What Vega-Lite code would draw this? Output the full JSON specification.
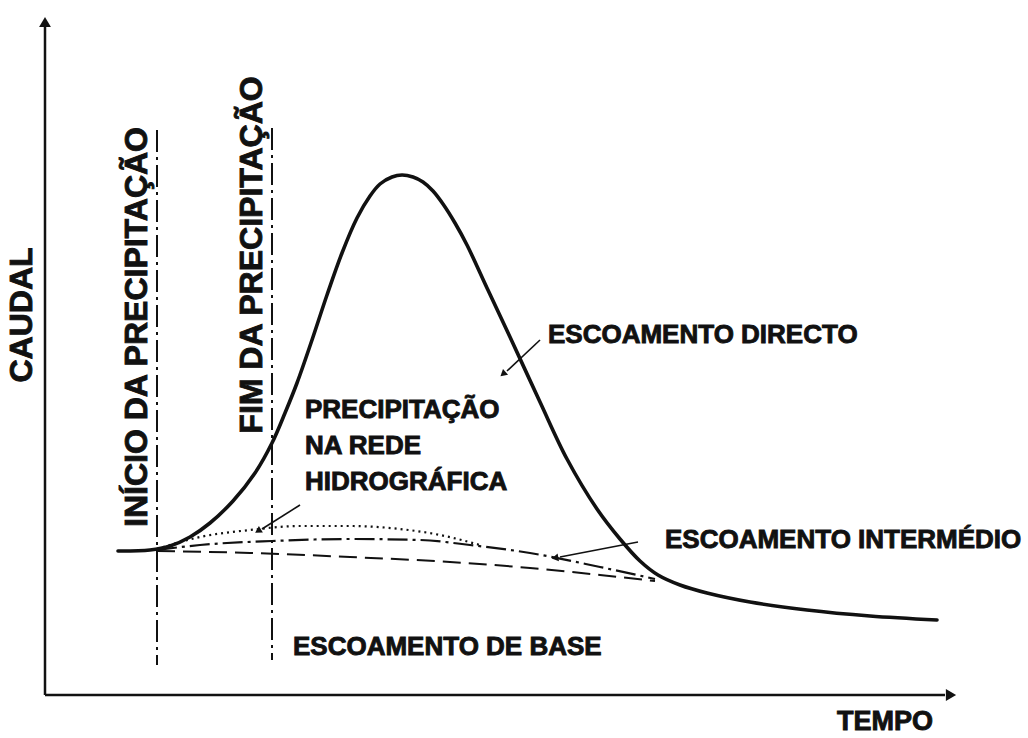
{
  "$schema": "https://vega.github.io/schema/vega-lite/v6.json",
  "width": 1028,
  "height": 738,
  "autosize": {"type": "fit", "contains": "padding"},
  "padding": 0,
  "background": "white",
  "config": {"view": {"stroke": null}},
  "datasets": {
    "direct": [
      {"t": 7.3, "Q": 14.4}, {"t": 10.5, "Q": 14.5}, {"t": 12.5, "Q": 14.9}, {"t": 14.5, "Q": 15.8},
      {"t": 16.5, "Q": 17.2}, {"t": 18.8, "Q": 19.4}, {"t": 21.0, "Q": 22.2}, {"t": 22.7, "Q": 25.2},
      {"t": 24.0, "Q": 28.2}, {"t": 25.2, "Q": 31.2}, {"t": 26.7, "Q": 35.5}, {"t": 28.2, "Q": 40.0},
      {"t": 29.7, "Q": 44.2}, {"t": 31.2, "Q": 47.7}, {"t": 32.5, "Q": 49.9}, {"t": 33.5, "Q": 51.1},
      {"t": 34.7, "Q": 51.8}, {"t": 35.7, "Q": 52.0}, {"t": 36.8, "Q": 51.8}, {"t": 37.8, "Q": 51.3},
      {"t": 38.8, "Q": 50.4}, {"t": 39.8, "Q": 49.1}, {"t": 41.0, "Q": 47.2}, {"t": 42.2, "Q": 45.0},
      {"t": 44.2, "Q": 40.7}, {"t": 46.5, "Q": 35.8}, {"t": 49.5, "Q": 29.3},
      {"t": 52.2, "Q": 23.6}, {"t": 55.2, "Q": 18.6}, {"t": 57.5, "Q": 15.6}, {"t": 59.5, "Q": 13.4},
      {"t": 61.3, "Q": 12.0}, {"t": 63.5, "Q": 11.0}, {"t": 66.2, "Q": 10.2}, {"t": 70.5, "Q": 9.3},
      {"t": 76.2, "Q": 8.5}, {"t": 82.5, "Q": 7.9}, {"t": 89.2, "Q": 7.5}
    ],
    "base": [
      {"t": 11.2, "Q": 14.4}, {"t": 20.5, "Q": 14.2}, {"t": 30.5, "Q": 13.8}, {"t": 40.5, "Q": 13.3},
      {"t": 48.5, "Q": 12.7}, {"t": 55.5, "Q": 12.0}, {"t": 61.0, "Q": 11.4}
    ],
    "inter": [
      {"t": 11.2, "Q": 14.5}, {"t": 15.5, "Q": 15.0}, {"t": 22.7, "Q": 15.4}, {"t": 30.5, "Q": 15.6},
      {"t": 37.5, "Q": 15.5}, {"t": 42.5, "Q": 15.0}, {"t": 48.5, "Q": 14.2}, {"t": 55.5, "Q": 12.8},
      {"t": 61.0, "Q": 11.6}
    ],
    "precip": [
      {"t": 11.2, "Q": 14.6}, {"t": 15.5, "Q": 15.8}, {"t": 20.5, "Q": 16.5}, {"t": 25.5, "Q": 16.9},
      {"t": 30.5, "Q": 16.9}, {"t": 35.5, "Q": 16.6}, {"t": 39.5, "Q": 16.0}, {"t": 43.5, "Q": 15.0}
    ],
    "axes": [
      {"t": 0, "Q": 0, "t2": 0, "Q2": 67.0},
      {"t": 0, "Q": 0, "t2": 90.0, "Q2": 0}
    ],
    "axisHeads": [
      {"t": 0, "Q": 67.3, "angle": 0},
      {"t": 90.6, "Q": 0, "angle": 90}
    ],
    "markers": [
      {"t": 11.2, "Q": 56.5, "t2": 11.2, "Q2": 3.0},
      {"t": 22.7, "Q": 56.7, "t2": 22.7, "Q2": 3.5}
    ],
    "pointers": [
      {"t": 49.5, "Q": 35.5, "t2": 46.2, "Q2": 32.4},
      {"t": 25.5, "Q": 19.0, "t2": 21.7, "Q2": 16.6},
      {"t": 59.3, "Q": 15.3, "t2": 51.5, "Q2": 13.8}
    ],
    "pointerHeads": [
      {"t": 45.8, "Q": 32.1, "angle": 229},
      {"t": 21.3, "Q": 16.4, "angle": 239},
      {"t": 51.0, "Q": 13.7, "angle": 260}
    ],
    "labels": [
      {"t": 50.3, "Q": 36.0, "text": "ESCOAMENTO DIRECTO"},
      {"t": 26.0, "Q": 28.5, "text": "PRECIPITAÇÃO"},
      {"t": 26.0, "Q": 24.9, "text": "NA REDE"},
      {"t": 26.0, "Q": 21.3, "text": "HIDROGRÁFICA"},
      {"t": 62.0, "Q": 15.5, "text": "ESCOAMENTO INTERMÉDIO"},
      {"t": 24.8, "Q": 4.8, "text": "ESCOAMENTO DE BASE"}
    ],
    "vlabels": [
      {"t": -2.3, "Q": 38.0, "text": "CAUDAL"},
      {"t": 9.2, "Q": 36.8, "text": "INÍCIO DA PRECIPITAÇÃO"},
      {"t": 20.7, "Q": 44.0, "text": "FIM DA PRECIPITAÇÃO"}
    ],
    "xlabel": [
      {"t": 84.0, "Q": -2.7, "text": "TEMPO"}
    ]
  },
  "encoding": {
    "x": {"field": "t", "type": "quantitative", "scale": {"domain": [-4.5, 98.3], "nice": false, "zero": false}, "axis": null},
    "y": {"field": "Q", "type": "quantitative", "scale": {"domain": [-4.3, 69.5], "nice": false, "zero": false}, "axis": null}
  },
  "layer": [
    {
      "data": {"name": "axes"},
      "mark": {"type": "rule", "color": "#111", "strokeWidth": 2.5},
      "encoding": {"x2": {"field": "t2"}, "y2": {"field": "Q2"}}
    },
    {
      "data": {"name": "axisHeads"},
      "mark": {"type": "point", "shape": "triangle-up", "filled": true, "color": "#111", "size": 140, "opacity": 1},
      "encoding": {"angle": {"field": "angle", "type": "quantitative", "scale": null}}
    },
    {
      "data": {"name": "markers"},
      "mark": {"type": "rule", "color": "#111", "strokeWidth": 2, "strokeDash": [22, 5, 3, 5]},
      "encoding": {"x2": {"field": "t2"}, "y2": {"field": "Q2"}}
    },
    {
      "data": {"name": "base"},
      "mark": {"type": "line", "color": "#111", "strokeWidth": 2, "strokeDash": [18, 8], "interpolate": "monotone"},
      "encoding": {}
    },
    {
      "data": {"name": "inter"},
      "mark": {"type": "line", "color": "#111", "strokeWidth": 2.2, "strokeDash": [20, 5, 3, 5], "interpolate": "monotone"},
      "encoding": {}
    },
    {
      "data": {"name": "precip"},
      "mark": {"type": "line", "color": "#111", "strokeWidth": 2.2, "strokeDash": [2, 4], "interpolate": "monotone"},
      "encoding": {}
    },
    {
      "data": {"name": "direct"},
      "mark": {"type": "line", "color": "#111", "strokeWidth": 3.6, "interpolate": "catmull-rom", "strokeCap": "round"},
      "encoding": {}
    },
    {
      "data": {"name": "pointers"},
      "mark": {"type": "rule", "color": "#111", "strokeWidth": 1.6},
      "encoding": {"x2": {"field": "t2"}, "y2": {"field": "Q2"}}
    },
    {
      "data": {"name": "pointerHeads"},
      "mark": {"type": "point", "shape": "triangle-up", "filled": true, "color": "#111", "size": 60, "opacity": 1},
      "encoding": {"angle": {"field": "angle", "type": "quantitative", "scale": null}}
    },
    {
      "data": {"name": "labels"},
      "mark": {"type": "text", "align": "left", "baseline": "middle", "font": "Liberation Sans", "fontWeight": "bold", "fontSize": 26, "color": "#111", "stroke": "#111", "strokeWidth": 0.9},
      "encoding": {"text": {"field": "text"}}
    },
    {
      "data": {"name": "vlabels"},
      "mark": {"type": "text", "align": "center", "baseline": "middle", "angle": 270, "font": "Liberation Sans", "fontWeight": "bold", "fontSize": 32, "color": "#111", "stroke": "#111", "strokeWidth": 0.9},
      "encoding": {"text": {"field": "text"}}
    },
    {
      "data": {"name": "xlabel"},
      "mark": {"type": "text", "align": "center", "baseline": "middle", "font": "Liberation Sans", "fontWeight": "bold", "fontSize": 27, "color": "#111", "stroke": "#111", "strokeWidth": 0.9},
      "encoding": {"text": {"field": "text"}}
    }
  ]
}
